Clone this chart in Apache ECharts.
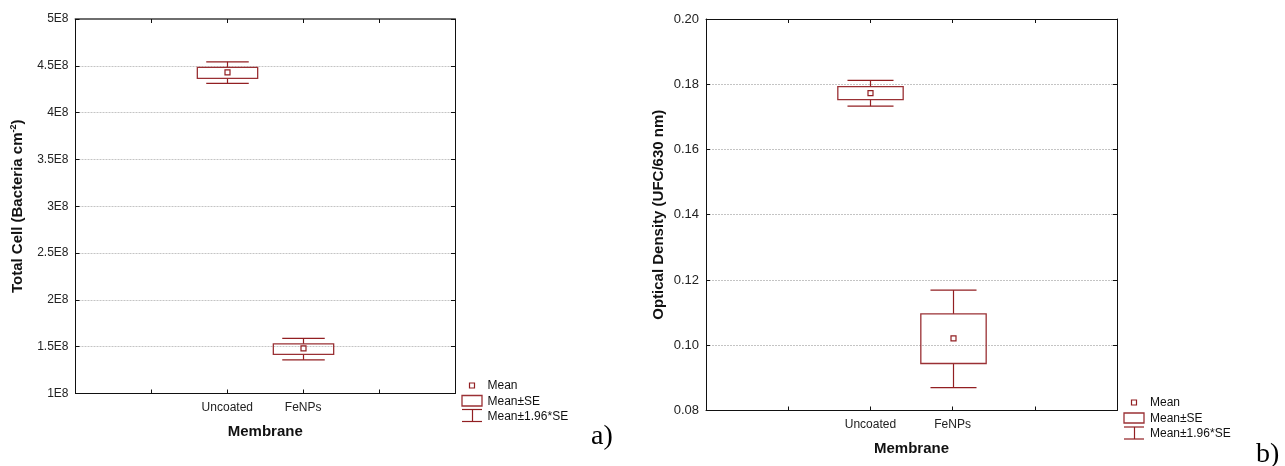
<!DOCTYPE html>
<html>
<head>
<meta charset="utf-8">
<script src="https://cdn.jsdelivr.net/npm/echarts@6/dist/echarts.min.js"></script>
<style>
html,body{margin:0;padding:0;background:#fff;}
#chart{width:1285px;height:466px;}
</style>
</head>
<body>
<div id="chart"></div>
<script>
// ---- data ----
const categories = ['Uncoated', 'FeNPs'];
const xTickLabels = ['', '', 'Uncoated', 'FeNPs', '', ''];

// Panel a) Total Cell (Bacteria cm-2)
const cellCiLow  = [4.312e8, 1.360e8];
const cellSeLow  = [4.366e8, 1.417e8];
const cellMean   = [4.430e8, 1.481e8];
const cellSeHigh = [4.483e8, 1.531e8];
const cellCiHigh = [4.543e8, 1.588e8];
const cellTickLabels = ['1E8', '1.5E8', '2E8', '2.5E8', '3E8', '3.5E8', '4E8', '4.5E8', '5E8'];

// Panel b) Optical Density (UFC/630 nm)
const odCiLow  = [0.1733, 0.0870];
const odSeLow  = [0.1753, 0.0944];
const odMean   = [0.1773, 0.1021];
const odSeHigh = [0.1793, 0.1096];
const odCiHigh = [0.1812, 0.1169];

const legendLabels = ['Mean', 'Mean±SE', 'Mean±1.96*SE'];

// ---- styling ----
const FONT = '"Liberation Sans", Arial, sans-serif';
const RED = '#921f22';
const RED_BOX = '#9a3034';

function buildData(lo, sl, m, sh, hi) {
  return categories.map((c, i) => [xTickLabels.indexOf(c), lo[i], sl[i], m[i], sh[i], hi[i]]);
}

function renderBox(params, api) {
  const x = api.value(0);
  const m = api.value(3);
  const c = api.coord([x, m]);
  const band = Math.abs(api.coord([x + 1, m])[0] - c[0]);
  const bw = band * 0.795, cw = band * 0.56, ms = 5;
  const yLo = api.coord([x, api.value(1)])[1];
  const ySl = api.coord([x, api.value(2)])[1];
  const ySh = api.coord([x, api.value(4)])[1];
  const yHi = api.coord([x, api.value(5)])[1];
  const cx = Math.round(c[0]) + 0.5;
  const ls = {stroke: RED, lineWidth: 1.2, fill: null};
  const bs = {stroke: RED_BOX, lineWidth: 1.3, fill: null};
  return {
    type: 'group',
    children: [
      {type: 'line', shape: {x1: cx, y1: yHi, x2: cx, y2: ySh}, style: ls},
      {type: 'line', shape: {x1: cx, y1: yLo, x2: cx, y2: ySl}, style: ls},
      {type: 'line', shape: {x1: cx - cw / 2, y1: yHi, x2: cx + cw / 2, y2: yHi}, style: ls},
      {type: 'line', shape: {x1: cx - cw / 2, y1: yLo, x2: cx + cw / 2, y2: yLo}, style: ls},
      {type: 'rect', shape: {x: cx - bw / 2, y: ySh, width: bw, height: ySl - ySh}, style: bs},
      {type: 'rect', shape: {x: cx - ms / 2, y: c[1] - ms / 2, width: ms, height: ms}, style: ls}
    ]
  };
}

function xAxes(gridIndex, topColor, topWidth) {
  return [
    {
      type: 'category', gridIndex, data: xTickLabels, boundaryGap: false, position: 'bottom',
      axisLine: {show: true, onZero: false, lineStyle: {color: '#111', width: 1}},
      axisTick: {show: true, inside: true, length: 4, lineStyle: {color: '#111'}},
      axisLabel: {show: true, interval: 0, color: '#222', fontFamily: FONT, fontSize: 12, margin: 8},
      splitLine: {show: false},
      name: 'Membrane', nameLocation: 'middle', nameGap: 31,
      nameTextStyle: {fontFamily: FONT, fontSize: 15, fontWeight: 'bold', color: '#111'}
    },
    {
      type: 'category', gridIndex, data: xTickLabels, boundaryGap: false, position: 'top',
      axisLine: {show: true, onZero: false, lineStyle: {color: topColor, width: topWidth}},
      axisTick: {show: true, inside: true, length: 4, lineStyle: {color: '#111'}},
      axisLabel: {show: false}, splitLine: {show: false}
    }
  ];
}

function yAxes(gridIndex, min, max, interval, formatter, name, nameGap, nameRich, fontSize) {
  return [
    {
      type: 'value', gridIndex, min, max, interval, position: 'left',
      axisLine: {show: true, onZero: false, lineStyle: {color: '#111', width: 1}},
      axisTick: {show: true, inside: true, length: 4, lineStyle: {color: '#111'}},
      axisLabel: {show: true, color: '#222', fontFamily: FONT, fontSize: fontSize, margin: 7, formatter},
      splitLine: {show: true, lineStyle: {color: '#c4c4c4', type: [2, 1], width: 1}},
      name, nameLocation: 'middle', nameGap,
      nameTextStyle: {fontFamily: FONT, fontSize: 15, fontWeight: 'bold', color: '#111', rich: nameRich}
    },
    {
      type: 'value', gridIndex, min, max, interval, position: 'right',
      axisLine: {show: true, onZero: false, lineStyle: {color: '#111', width: 1}},
      axisTick: {show: true, inside: true, length: 4, lineStyle: {color: '#111'}},
      axisLabel: {show: false}, splitLine: {show: false}
    }
  ];
}

function legendGraphics(x0, iconL, iconR, rowY, meanIcon, boxIcon, ciIcon) {
  const st = {stroke: RED, lineWidth: 1.2, fill: null};
  const els = [];
  els.push({type: 'rect', shape: {x: meanIcon[0], y: meanIcon[1], width: 5, height: 5}, style: st, silent: true});
  els.push({type: 'rect', shape: {x: iconL, y: boxIcon[0], width: iconR - iconL, height: boxIcon[1] - boxIcon[0]}, style: {stroke: RED_BOX, lineWidth: 1.3, fill: null}, silent: true});
  const mid = Math.round((iconL + iconR) / 2) + 0.5;
  els.push({type: 'line', shape: {x1: iconL, y1: ciIcon[0], x2: iconR, y2: ciIcon[0]}, style: st, silent: true});
  els.push({type: 'line', shape: {x1: mid, y1: ciIcon[0], x2: mid, y2: ciIcon[1]}, style: st, silent: true});
  els.push({type: 'line', shape: {x1: iconL, y1: ciIcon[1], x2: iconR, y2: ciIcon[1]}, style: st, silent: true});
  legendLabels.forEach((t, i) => {
    els.push({type: 'text', x: x0, y: rowY[i], silent: true,
      style: {text: t, fill: '#111', font: '12px ' + FONT, textVerticalAlign: 'middle', textAlign: 'left'}});
  });
  return els;
}

const chart = echarts.init(document.getElementById('chart'), null, {renderer: 'canvas'});

const option = {
  backgroundColor: '#ffffff',
  animation: false,
  grid: [
    {left: 75.5, top: 19, right: 830, bottom: 72.5, containLabel: false},
    {left: 706, top: 19, right: 168, bottom: 55.5, containLabel: false}
  ],
  xAxis: [].concat(xAxes(0, '#6e6e6e', 2), xAxes(1, '#111', 1)),
  yAxis: [].concat(
    yAxes(0, 1e8, 5e8, 0.5e8, (v, i) => cellTickLabels[i], 'Total Cell (Bacteria cm{sup|-2})', 50,
      {sup: {fontFamily: FONT, fontSize: 9, fontWeight: 'bold', color: '#111', verticalAlign: 'top', padding: [0, 0, 7, 0]}}, 12),
    yAxes(1, 0.08, 0.20, 0.02, v => v.toFixed(2), 'Optical Density (UFC/630 nm)', 40, {}, 13)
  ),
  series: [
    {
      name: 'Total Cell', type: 'custom', xAxisIndex: 0, yAxisIndex: 0,
      renderItem: renderBox, encode: {x: 0, y: [1, 2, 3, 4, 5]},
      data: buildData(cellCiLow, cellSeLow, cellMean, cellSeHigh, cellCiHigh), z: 5
    },
    {
      name: 'Optical Density', type: 'custom', xAxisIndex: 2, yAxisIndex: 2,
      renderItem: renderBox, encode: {x: 0, y: [1, 2, 3, 4, 5]},
      data: buildData(odCiLow, odSeLow, odMean, odSeHigh, odCiHigh), z: 5
    }
  ],
  graphic: [].concat(
    legendGraphics(487.5, 462, 482, [386, 401.5, 417], [469.5, 383], [395.5, 406], [409.5, 421.5]),
    legendGraphics(1150, 1124, 1144, [403, 419, 434], [1131.5, 400], [413, 423], [427, 439]),
    [
      {type: 'text', x: 591, y: 437, silent: true,
        style: {text: 'a)', fill: '#000', font: '28px "Liberation Serif", "Times New Roman", serif', textVerticalAlign: 'middle', textAlign: 'left'}},
      {type: 'text', x: 1256, y: 455, silent: true,
        style: {text: 'b)', fill: '#000', font: '28px "Liberation Serif", "Times New Roman", serif', textVerticalAlign: 'middle', textAlign: 'left'}}
    ]
  )
};

chart.setOption(option);
</script>
</body>
</html>
